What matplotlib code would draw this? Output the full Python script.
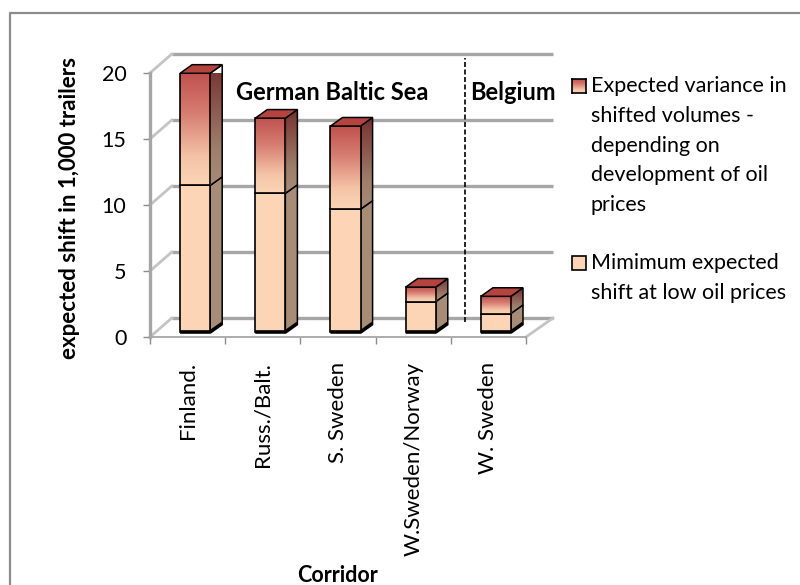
import numpy as np
import matplotlib
matplotlib.use("Agg")
import matplotlib.pyplot as plt
from matplotlib.patches import Polygon, Rectangle
from matplotlib.colors import LinearSegmentedColormap
from matplotlib.lines import Line2D

plt.rcParams['font.family'] = ['Lato', 'DejaVu Sans']

# ---- data -------------------------------------------------------------
corridors = ["Finland.", "Russ./Balt.", "S. Sweden", "W.Sweden/Norway", "W. Sweden"]
min_shift = [11.1, 10.5, 9.3, 2.3, 1.4]      # minimum expected shift (1,000 trailers)
variance = [8.5, 5.7, 6.3, 1.1, 1.3]         # extra shift depending on oil price
yticks = [0, 5, 10, 15, 20]
region_labels = ["German Baltic Sea", "Belgium"]
legend_labels = ["Expected variance in\nshifted volumes -\ndepending on\ndevelopment of oil\nprices",
                 "Mimimum expected\nshift at low oil prices"]
y_label = "expected shift in 1,000 trailers"
x_label = "Corridor"

# ---- colours ----------------------------------------------------------
PEACH = "#FBD5B6"
SIDE_LOW = "#A78C76"
TOP_RED = "#B5443F"
GRID = "#a6a6a6"
front_cmap = LinearSegmentedColormap.from_list(
    "front", [(0, PEACH), (0.25, "#F5C3A6"), (0.65, "#D57B70"), (1, "#C0504D")])
side_cmap = LinearSegmentedColormap.from_list(
    "side", [(0, SIDE_LOW), (0.3, "#9E7F6C"), (1, "#76302E")])

W, H = 800, 585
fig = plt.figure(figsize=(W / 100, H / 100), dpi=100)


def fx(p):
    return p / W


def fy(p):
    return 1 - p / H


ax = fig.add_axes([fx(150), fy(337), fx(526) - fx(150), fy(73) - fy(337)])
ax.patch.set_alpha(0)

# box depth (back wall offset) in data units
WALL_DX_L, WALL_DX_R, WALL_DY = 0.29, 0.36, 1.44
XMIN, XMAX = -0.5, len(corridors) - 0.5

# back wall gridlines, left side wall and floor
for v in yticks:
    ax.plot([XMIN + WALL_DX_L, XMAX + WALL_DX_R], [v + WALL_DY] * 2,
            color=GRID, lw=2.4, solid_capstyle='butt', zorder=0.5, clip_on=False)
    ax.plot([XMIN, XMIN + WALL_DX_L], [v, v + WALL_DY],
            color="#c4c4c4", lw=2.0, zorder=0.5, clip_on=False)
ax.plot([XMAX, XMAX + WALL_DX_R], [0, WALL_DY], color="#c4c4c4", lw=2.0,
        zorder=0.5, clip_on=False)

# ---- axes styling -----------------------------------------------------
for s in ("top", "right"):
    ax.spines[s].set_visible(False)
ax.spines["left"].set_color(GRID)
ax.spines["left"].set_linewidth(2.4)
ax.spines["bottom"].set_color(GRID)
ax.spines["bottom"].set_linewidth(1.3)

ax.set_xlim(XMIN, XMAX)
ax.set_ylim(0, 20)
ax.set_yticks(yticks)
ax.tick_params(axis="y", length=5, color="#8c8c8c", width=1, labelsize=15.5, pad=12)
ax.set_xticks(np.arange(len(corridors)))
ax.set_xticklabels(corridors, rotation=90, va="top", ha="center")
ax.tick_params(axis="x", which="major", length=0, labelsize=16, pad=18)
ax.set_xticks(np.arange(XMIN, XMAX + 0.01, 1.0), minor=True)
ax.tick_params(axis="x", which="minor", length=5, color="#8c8c8c", width=1)

# ---- 3-D style stacked columns ---------------------------------------
BAR_W, BAR_SHIFT, BASE = 0.4, 0.1, 0.38
DDX, DDY = 0.16, 0.65
xs = np.arange(len(corridors)) + BAR_SHIFT
mins = np.array(min_shift)
tops = mins + np.array(variance)
grad = np.linspace(0, 1, 256).reshape(-1, 1)

lower = ax.bar(xs, mins, BAR_W, bottom=BASE, color=PEACH, edgecolor="black",
               lw=1.2, zorder=3)
upper = ax.bar(xs, variance, BAR_W, bottom=BASE + mins, facecolor="none",
               edgecolor="black", lw=1.2, zorder=3.2)

for i, (lp, up) in enumerate(zip(lower.patches, upper.patches)):
    x0, w = up.get_x(), up.get_width()
    xr = x0 + w
    y_split = BASE + mins[i]
    y_top = BASE + tops[i]

    # gradient on the front of the upper segment
    im = ax.imshow(grad, cmap=front_cmap, origin="lower", aspect="auto",
                   extent=[x0, xr, y_split, y_top], zorder=3.1)
    im.set_clip_path(up)

    # right-hand side faces
    side_low = Polygon([(xr, BASE), (xr + DDX, BASE + DDY),
                        (xr + DDX, y_split + DDY), (xr, y_split)],
                       closed=True, facecolor=SIDE_LOW, edgecolor="black",
                       lw=1.1, zorder=2.9, clip_on=False)
    ax.add_patch(side_low)
    side_up = Polygon([(xr, y_split), (xr + DDX, y_split + DDY),
                       (xr + DDX, y_top + DDY), (xr, y_top)],
                      closed=True, facecolor="none", edgecolor="black",
                      lw=1.1, zorder=2.95, clip_on=False)
    ax.add_patch(side_up)
    im2 = ax.imshow(grad, cmap=side_cmap, origin="lower", aspect="auto",
                    extent=[xr, xr + DDX, y_split, y_top + DDY], zorder=2.92)
    im2.set_clip_path(side_up)
    im2.set_clip_on(True)

    # top face
    ax.add_patch(Polygon([(x0, y_top), (xr, y_top), (xr + DDX, y_top + DDY),
                          (x0 + DDX, y_top + DDY)], closed=True,
                         facecolor=TOP_RED, edgecolor="black", lw=1.1,
                         zorder=3.3, clip_on=False))

    # heavy base edge
    ax.plot([x0, xr, xr + DDX], [BASE, BASE, BASE + DDY], color="black",
            lw=2.6, solid_capstyle="butt", zorder=3.4)

ax.set_xlim(XMIN, XMAX)
ax.set_ylim(0, 20)

# divider between German Baltic Sea and Belgium corridors
DIV_DEPTH = 0.64
xd = 3.5 + DIV_DEPTH * WALL_DX_L
ax.plot([xd, xd], [DIV_DEPTH * WALL_DY + 0.2, DIV_DEPTH * WALL_DY + 20.2],
        color="black", lw=1.2, ls=(0, (3, 1.5)), zorder=2.5, clip_on=False)

ax.text(0.64, 18.55, region_labels[0], fontsize=17, fontweight="bold",
        va="center", ha="left", zorder=5)
ax.text(3.755, 18.5, region_labels[1], fontsize=17, fontweight="bold",
        va="center", ha="left", zorder=5)

# ---- axis titles ------------------------------------------------------
fig.text(fx(70), fy(208), y_label, rotation=90, fontsize=16, fontweight="bold",
         ha="center", va="center")
fig.text(fx(337), fy(582), x_label, fontsize=15.5, fontweight="bold",
         ha="center", va="baseline")

# ---- legend -----------------------------------------------------------
leg_text_x = 591
leg_first_line = [86, 263]
line_step = 29.8
sq = 14
for k, label in enumerate(legend_labels):
    y0 = leg_first_line[k]
    if k == 0:
        sax = fig.add_axes([fx(572), fy(y0 + sq / 2), sq / W, sq / H])
        sax.imshow(grad, cmap=front_cmap, origin="lower", aspect="auto")
        sax.set_xticks([])
        sax.set_yticks([])
        for s in sax.spines.values():
            s.set_linewidth(1.2)
    else:
        fig.add_artist(Rectangle((fx(572), fy(y0 + sq / 2)), sq / W, sq / H,
                                 facecolor=PEACH, edgecolor="black", lw=1.2,
                                 transform=fig.transFigure))
    for j, line in enumerate(label.split("\n")):
        fig.text(fx(leg_text_x), fy(y0 + j * line_step), line, fontsize=15.5,
                 ha="left", va="center")

# ---- chart border -----------------------------------------------------
fig.add_artist(Line2D([fx(10), fx(10), 1.0], [0, fy(13), fy(13)],
                      color="#8c8c8c", lw=1.6, transform=fig.transFigure))

fig.savefig("out.png", dpi=100, facecolor="white")
